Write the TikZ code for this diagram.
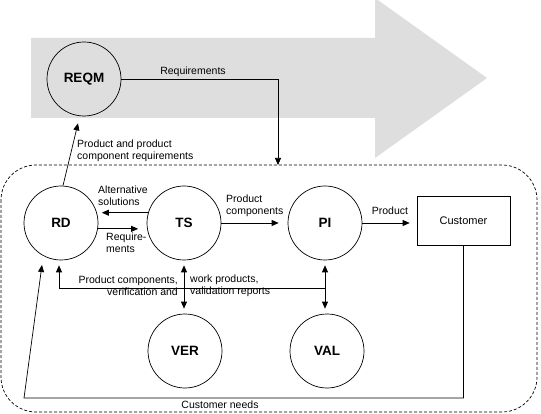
\documentclass[tikz,border=0pt]{standalone}
\usepackage{fontspec}
\setmainfont{Liberation Sans}
\usetikzlibrary{arrows.meta,calc}
\definecolor{bigarrow}{HTML}{DEDEDE}
\tikzset{
  circ/.style={circle,draw,line width=0.7pt,minimum size=74pt,inner sep=0pt,font=\fontsize{13.5}{15}\selectfont\bfseries},
  custbox/.style={rectangle,draw,line width=0.7pt,minimum width=93pt,minimum height=49pt,inner sep=0pt,font=\fontsize{11}{13}\selectfont},
  lbl/.style={inner sep=0pt,font=\fontsize{10.5}{11.8}\selectfont},
  arr/.style={line width=0.7pt,-{Triangle[length=7pt,width=6pt]}},
  arrtwo/.style={line width=0.7pt,{Triangle[length=7pt,width=6pt]}-{Triangle[length=7pt,width=6pt]}},
  plain/.style={line width=0.7pt},
  dashbox/.style={line width=0.7pt,dash pattern=on 3pt off 2pt,rounded corners=35pt}
}
\begin{document}
\begin{tikzpicture}[x=1pt,y=-1pt]
\useasboundingbox (0,0) rectangle (541,414);
% big grey arrow
\fill[bigarrow] (31,38) -- (375,38) -- (375,-2) -- (487,78) -- (375,158) -- (375,118) -- (31,118) -- cycle;
% dashed boundary
\draw[dashbox] (1,165) rectangle (537,412);
% nodes
\node[circ] (reqm) at (84,79) {REQM};
\node[circ] (rd) at (61,223) {RD};
\node[circ] (ts) at (184,223) {TS};
\node[circ] (pi) at (325,223) {PI};
\node[custbox] (cust) at (463.5,220.5) {Customer};
\node[circ] (ver) at (185,351) {VER};
\node[circ] (val) at (327,351) {VAL};
% coordinates
\coordinate (reqtarget) at (278,165);
\coordinate (fbleft) at (59,288);
\coordinate (cnbottom) at (24,398);
\coordinate (cnend) at (42,265);
% connectors
\draw[arr] (reqm.east) -| (reqtarget);
\node[lbl] (lreq) at (193,72) {Requirements};
\draw[arr] ($(rd.north)+(2,0)$) -- ($(reqm.south)+(-6,7)$);
\node[lbl,anchor=west,align=left] (lpcr) at (77,151) {Product and product\\component requirements};
\draw[arr] (ts.164) -- ($(rd.16)+(5,0)$);
\node[lbl,anchor=west,align=left] (lalt) at (98,196) {Alternative\\solutions};
\draw[arr] (rd.-9) -- ($(ts.189)+(-9,0)$);
\node[lbl,anchor=west,align=left] (lreqm) at (106,243) {Require-\\ments};
\draw[arr] (ts.east) -- ($(pi.west)+(-9,0)$);
\node[lbl,anchor=west,align=left] (lpc) at (226,206) {Product\\components};
\draw[arr] (pi.east) -- ($(cust.west |- pi.east)+(-7,0)$);
\node[lbl] (lprod) at (390,211) {Product};
\draw[arrtwo] ($(ts.south)+(0,5)$) -- ($(ts.south |- ver.north)+(0,-5)$);
\draw[arrtwo] ($(pi.south)+(0,5)$) -- ($(pi.south |- val.north)+(0,-5)$);
\draw[arr] (pi.south |- fbleft) -- (fbleft) -- ($(rd.south)+(-2,5)$);
\node[lbl,anchor=east,align=right] (lpcv) at (178,286) {Product components,\\verification and};
\node[lbl,anchor=west,align=left] (lwp) at (190,286) {work products,\\validation reports};
\draw[arr] (cust.south) -- (cust.south |- cnbottom) -- (cnbottom) -- (cnend);
\node[lbl] (lcn) at (220,405) {Customer needs};
\end{tikzpicture}
\end{document}
